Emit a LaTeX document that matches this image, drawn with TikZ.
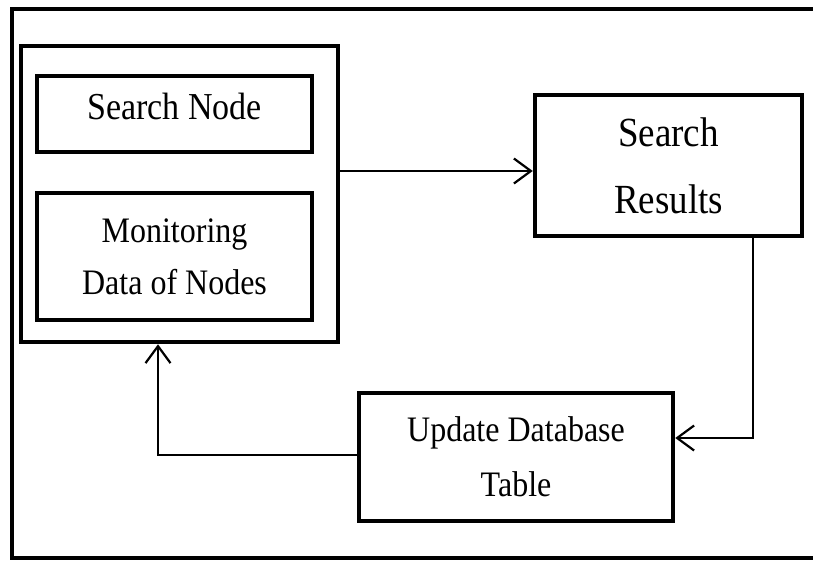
\documentclass[tikz,border=0pt]{standalone}
\usepackage{fontspec}
\usepackage{graphicx}
\setmainfont{Liberation Serif}
\usetikzlibrary{arrows.meta}
\newcommand{\tallt}[1]{\scalebox{1}[1.12]{#1}}
\tikzset{
  boxstyle/.style={draw=black, line width=4.5pt, rectangle, inner sep=0pt, align=center},
  conn/.style={draw=black, line width=2.2pt},
  barb/.style={-{Straight Barb[length=17pt,width=25pt,line width=2.2pt]}},
}
\begin{document}
\begin{tikzpicture}[x=1pt,y=-1pt]
\useasboundingbox (0,0) rectangle (813,560);
% outer frame (right side cut off)
\draw[line width=4pt] (840,8.5) -- (12,8.5) -- (12,557.5) -- (840,557.5);
% nodes
\node[boxstyle, minimum width=317pt, minimum height=296pt] (group) at (179.5,194) {};
\node[boxstyle, minimum width=275pt, minimum height=76pt,
      font=\fontsize{34}{40}\selectfont, text depth=16pt] (search) at (174.5,114) {\tallt{Search Node}};
\node[boxstyle, minimum width=275pt, minimum height=127pt,
      font=\fontsize{32}{52}\selectfont] (monitor) at (174.5,256.5) {\tallt{Monitoring}\\\tallt{Data of Nodes}};
\node[boxstyle, minimum width=267pt, minimum height=141pt,
      font=\fontsize{37}{67}\selectfont] (results) at (668.5,165.5) {\tallt{Search}\\\tallt{Results}};
\node[boxstyle, minimum width=314pt, minimum height=128pt,
      font=\fontsize{32}{55}\selectfont] (update) at (516,457) {\tallt{Update Database}\\\tallt{Table}};
% connectors
\coordinate (c1) at (753,438);
\coordinate (c2) at (158,455);
\draw[conn, barb] (group.east |- 0,171) -- (results.west |- 0,171);
\draw[conn, barb] (results.south -| c1) -- (c1) -- (update.east |- c1);
\draw[conn, barb] (update.west |- c2) -- (c2) -- (group.south -| c2);
\end{tikzpicture}
\end{document}
